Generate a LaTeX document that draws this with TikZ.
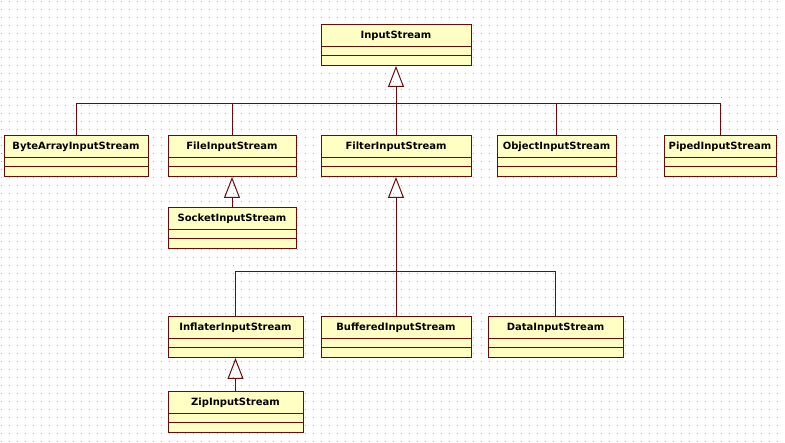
\documentclass[tikz,border=0pt]{standalone}
\usepackage{fontspec}
\setmainfont{DejaVu Sans}
\usetikzlibrary{arrows.meta}
\usetikzlibrary{calc}
\usepackage{xcolor}

\definecolor{linec}{RGB}{110,10,10}
\definecolor{boxc}{RGB}{255,255,196}
\definecolor{dotc}{RGB}{170,170,170}

\begin{document}
\begin{tikzpicture}[x=1pt, y=-1pt]
        % ================= 样式定义 =================
        \tikzset{
            % 类框:黄底红边,三格
            cls/.style={rectangle, draw=linec, fill=boxc, line width=1pt, anchor=north,
                inner sep=0pt, outer sep=0pt, minimum height=41pt,
                text height=14pt, text depth=27pt, font=\fontsize{10}{12}\selectfont\bfseries,
                path picture={
                    \draw[linec, line width=1pt] ($(path picture bounding box.north west)+(-5,22)$) -- ++(300,0);
                    \draw[linec, line width=1pt] ($(path picture bounding box.north west)+(-5,31)$) -- ++(300,0);
                }},
            % 继承线:空心三角
            gen/.style={draw=linec, line width=1pt},
            genarrow/.style={gen, -{Triangle[open, length=21pt, width=16pt]}}
        }

        % ================= 0. 背景点阵 =================
        \useasboundingbox (0,0) rectangle (785,443);
        \fill[white] (0,0) rectangle (785,443);
        \foreach \row in {0,...,55}
            \draw[dotc, line width=1pt, dash pattern=on 1pt off 7pt] (1,1.5+8*\row) -- (785,1.5+8*\row);

        % ================= 1. 顶层 InputStream =================
        \node[cls, minimum width=150pt] (is) at (396,25) {InputStream};

        % ================= 2. 第二层 =================
        \node[cls, minimum width=144pt] (ba) at (76,136) {ByteArrayInputStream};
        \node[cls, minimum width=128pt] (fi) at (232,136) {FileInputStream};
        \node[cls, minimum width=150pt] (fl) at (396,136) {FilterInputStream};
        \node[cls, minimum width=119pt] (ob) at (556.5,136) {ObjectInputStream};
        \node[cls, minimum width=112pt] (pi) at (720,136) {PipedInputStream};

        % ================= 3. 第三层 =================
        \node[cls, minimum width=128pt] (so) at (232,208) {SocketInputStream};
        \node[cls, minimum width=135pt] (inf) at (235.5,317) {InflaterInputStream};
        \node[cls, minimum width=150pt] (bu) at (396,317) {BufferedInputStream};
        \node[cls, minimum width=135pt] (da) at (555.5,317) {DataInputStream};
        \node[cls, minimum width=135pt] (zi) at (235.5,392) {ZipInputStream};

        % ================= 4. 继承关系 =================
        \coordinate (busis) at (396,104);
        \coordinate (busfl) at (396,272);

        \draw[genarrow] (busis) -- (is.south);
        \draw[gen] (ba.north) |- (busis);
        \draw[gen] (fi.north) |- (busis);
        \draw[gen] (fl.north) -- (busis);
        \draw[gen] (ob.north) |- (busis);
        \draw[gen] (pi.north) |- (busis);

        \draw[genarrow] (so.north) -- (fi.south);

        \draw[genarrow] (busfl) -- (fl.south);
        \draw[gen] (inf.north) |- (busfl);
        \draw[gen] (bu.north) -- (busfl);
        \draw[gen] (da.north) |- (busfl);

        \draw[genarrow] (zi.north) -- (inf.south);

    \end{tikzpicture}
\end{document}
